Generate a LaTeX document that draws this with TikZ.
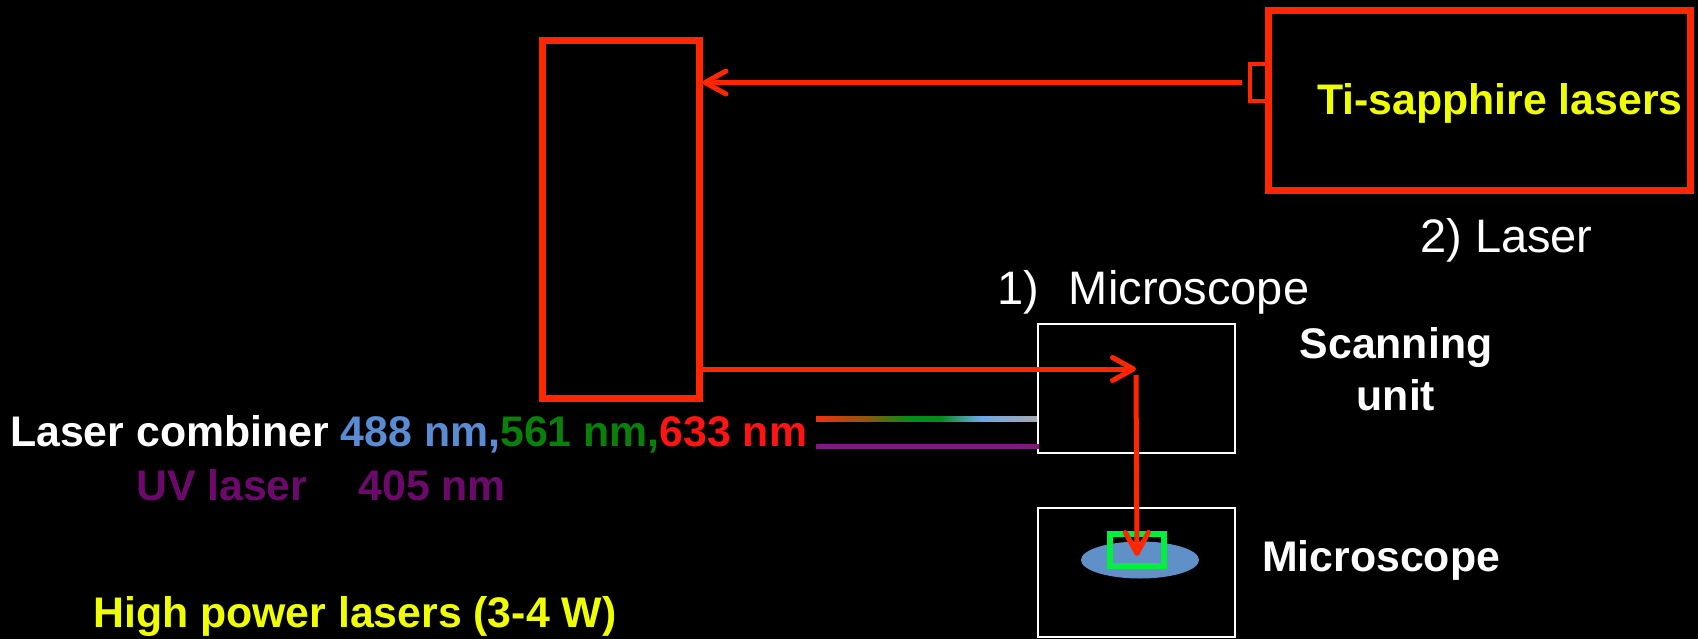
\documentclass[tikz,border=0pt]{standalone}
\usepackage{fontspec}
\setmainfont{Liberation Sans}
\usetikzlibrary{arrows.meta,shapes.geometric}
\definecolor{laserred}{RGB}{255,38,0}
\definecolor{textyellow}{RGB}{240,255,0}
\definecolor{tblue}{RGB}{90,140,212}
\definecolor{tgreen}{RGB}{10,128,10}
\definecolor{tred}{RGB}{255,20,20}
\definecolor{uvtext}{RGB}{108,10,108}
\definecolor{uvline}{RGB}{122,28,122}
\definecolor{samplefill}{RGB}{95,145,200}
\definecolor{focusgreen}{RGB}{0,240,60}
\definecolor{bmone}{RGB}{240,50,10}
\definecolor{bmtwo}{RGB}{150,85,10}
\definecolor{bmthree}{RGB}{0,140,30}
\definecolor{bmfour}{RGB}{110,165,225}
\definecolor{bmfive}{RGB}{165,170,178}
\pgfdeclarehorizontalshading{rainbowbeam}{100bp}{color(0bp)=(bmone); color(25bp)=(bmone); color(36bp)=(bmtwo); color(46bp)=(bmthree); color(53bp)=(bmthree); color(62bp)=(bmfour); color(75bp)=(bmfive); color(100bp)=(bmfive)}
\newcommand{\mybold}{\fontsize{42.8}{52}\selectfont\bfseries}
\newcommand{\myreg}{\fontsize{47}{55}\selectfont}
\tikzset{
  redbox/.style={draw=laserred, line width=7pt, rectangle, inner sep=0pt},
  whitebox/.style={draw=white, line width=2pt, rectangle, inner sep=0pt, minimum width=197pt, minimum height=129pt},
  beam/.style={draw=laserred, line width=5pt, -{Straight Barb[length=21pt, width=23pt, line cap=round, line join=round]}},
  txt/.style={inner sep=0pt, anchor=base west},
}
\begin{document}
\begin{tikzpicture}[x=1pt, y=-1pt]
\path[use as bounding box] (0,0) rectangle (1698,639);
\fill[black] (0,0) rectangle (1698,639);

% boxes
\node[redbox, minimum width=157pt, minimum height=357pt] (combiner) at (620.5,219.5) {};
\node[redbox, minimum width=422pt, minimum height=180pt] (tisbox) at (1479,101) {};
\node[draw=laserred, line width=3.5pt, rectangle, inner sep=0pt, minimum width=17pt, minimum height=37pt] (port) at (1258.5,82.5) {};
\node[whitebox] (scan) at (1136.5,388.5) {};
\node[whitebox] (scope) at (1136.5,572.5) {};
\node[ellipse, fill=samplefill, inner sep=0pt, minimum width=118pt, minimum height=37pt] (sample) at (1140,560) {};
\node[draw=focusgreen, line width=6pt, rectangle, inner sep=0pt, minimum width=54pt, minimum height=32pt] (focus) at (1137,550) {};

% visible laser lines
\coordinate (beamstart) at (816,419);
\coordinate (uvstart) at (816,446);
\shade[shading=rainbowbeam] ([yshift=2.5pt]beamstart) rectangle ([yshift=-2.5pt]scan.west |- beamstart);
\draw[uvline, line width=5pt] (uvstart) -- ([xshift=2pt]scan.west |- uvstart);

% arrows
\draw[beam] ([xshift=-6pt]port.west) -- (combiner.east |- port.west);
\coordinate (bend) at (1136,369);
\coordinate (spot) at (1137,556);
\draw[beam] (combiner.east |- bend) -- (bend);
\draw[beam] ([yshift=-6pt]bend) -- (spot);

% texts
\node[txt, textyellow, font=\mybold] (tisalbl) at (1317,115) {Ti-sapphire lasers};
\node[txt, white, font=\myreg] (laserlbl) at (1420,253) {2) Laser};
\node[txt, white, font=\myreg] (miclbl) at (997,304) {1)\hspace{30pt}Microscope};
\node[txt, white, font=\mybold] (comblbl) at (10,446) {Laser combiner \textcolor{tblue}{488 nm,}\textcolor{tgreen}{561 nm,}\textcolor{tred}{633 nm}};
\node[txt, uvtext, font=\mybold] (uvlbl) at (136,500) {UV laser\hspace{51pt}405 nm};
\node[txt, textyellow, font=\mybold] (hplbl) at (93,627) {High power lasers (3-4 W)};
\node[white, font=\mybold, align=center, anchor=base, inner sep=0pt] (scanlbl) at (1396,410) {Scanning\\unit};
\node[txt, white, font=\mybold] (scopelbl) at (1262,571) {Microscope};
\end{tikzpicture}
\end{document}
